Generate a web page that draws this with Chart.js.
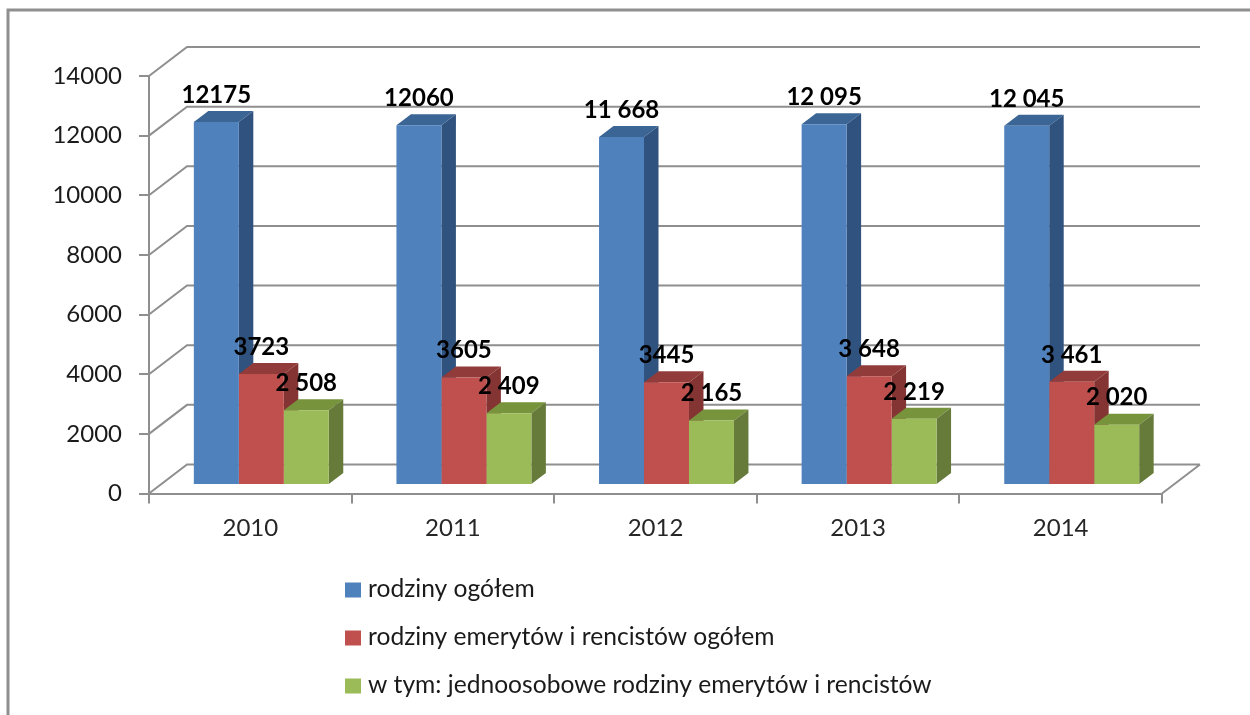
<!DOCTYPE html>
<html>
<head>
<meta charset="utf-8">
<title>Rodziny</title>
<script src="https://cdn.jsdelivr.net/npm/chart.js@4"></script>
<style>
  html, body { margin: 0; padding: 0; background: #fff; overflow: hidden; }
  canvas { display: block; filter: blur(0.4px); }
</style>
</head>
<body>
<canvas id="chart" width="1250" height="715"></canvas>
<script>
const years = ['2010', '2011', '2012', '2013', '2014'];
const yTicks = [0, 2000, 4000, 6000, 8000, 10000, 12000, 14000];
const seriesNames = [
  'rodziny ogółem',
  'rodziny emerytów i rencistów ogółem',
  'w tym: jednoosobowe rodziny emerytów i rencistów'
];
const allFamilies = [12175, 12060, 11668, 12095, 12045];
const pensionerFamilies = [3723, 3605, 3445, 3648, 3461];
const singlePensioners = [2508, 2409, 2165, 2219, 2020];
const allLabels = ['12175', '12060', '11 668', '12 095', '12 045'];
const pensionerLabels = ['3723', '3605', '3445', '3 648', '3 461'];
const singleLabels = ['2 508', '2 409', '2 165', '2 219', '2 020'];

const GRAY = '#8f8f8f';
const TEXT_FONT = 'Lato, "Open Sans", sans-serif';
const faces = [
  { front: '#4f81bd', top: '#3a6595', side: '#30527e' },
  { front: '#c0504d', top: '#913c3a', side: '#843533' },
  { front: '#9bbb59', top: '#77933c', side: '#667a3a' }
];
const dataLabels = [allLabels, pensionerLabels, singleLabels];

// the 3D look: walls sit behind the axes, bars sit a bit inside the floor
const wall = { dx: 38, dy: 29 };
const barShift = { x: 11, y: -8.5 };
const barDepth = { dx: 14.5, dy: 11 };

function poly(ctx, color, pts) {
  ctx.fillStyle = color;
  ctx.beginPath();
  pts.forEach((p, i) => i ? ctx.lineTo(p[0], p[1]) : ctx.moveTo(p[0], p[1]));
  ctx.closePath();
  ctx.fill();
}

const walls3d = {
  id: 'walls3d',
  beforeDatasetsDraw(chart) {
    const { ctx, scales: { x, y } } = chart;
    ctx.save();
    ctx.strokeStyle = GRAY;
    ctx.lineWidth = 2;
    ctx.beginPath();
    yTicks.forEach(v => {
      const py = y.getPixelForValue(v);
      ctx.moveTo(x.left, py);
      ctx.lineTo(x.left + wall.dx, py - wall.dy);
      ctx.lineTo(x.right + wall.dx, py - wall.dy);
    });
    const floor = y.getPixelForValue(0);
    ctx.moveTo(x.right, floor);
    ctx.lineTo(x.right + wall.dx, floor - wall.dy);
    ctx.stroke();

    // top and side faces go first, left to right, the fronts cover them after
    ctx.translate(barShift.x, barShift.y);
    faces.forEach((colors, i) => {
      chart.getDatasetMeta(i).data.forEach(bar => {
        const l = bar.x - bar.width / 2;
        const r = bar.x + bar.width / 2;
        const { dx, dy } = barDepth;
        poly(ctx, colors.top, [[l, bar.y], [l + dx, bar.y - dy], [r + dx, bar.y - dy], [r, bar.y]]);
        poly(ctx, colors.side, [[r, bar.y], [r + dx, bar.y - dy], [r + dx, bar.base - dy], [r, bar.base]]);
      });
    });
    ctx.restore();
  },
  beforeDatasetDraw(chart) {
    chart.ctx.save();
    chart.ctx.translate(barShift.x, barShift.y);
  },
  afterDatasetDraw(chart) {
    chart.ctx.restore();
  },
  afterDatasetsDraw(chart) {
    const ctx = chart.ctx;
    ctx.save();
    ctx.font = 'bold 24px ' + TEXT_FONT;
    ctx.fillStyle = '#000';
    ctx.textAlign = 'center';
    ctx.textBaseline = 'middle';
    dataLabels.forEach((labels, i) => {
      chart.getDatasetMeta(i).data.forEach((bar, j) => {
        ctx.fillText(labels[j], bar.x + barShift.x, bar.y + barShift.y - 27);
      });
    });
    ctx.restore();
  },
  afterDraw(chart) {
    const ctx = chart.ctx;
    ctx.save();
    // outer frame, runs off the picture right and bottom
    ctx.strokeStyle = GRAY;
    ctx.lineWidth = 3;
    ctx.beginPath();
    ctx.moveTo(8, 715);
    ctx.lineTo(8, 10);
    ctx.lineTo(1250, 10);
    ctx.stroke();
    // legend
    ctx.font = '24.6px ' + TEXT_FONT;
    ctx.textAlign = 'left';
    ctx.textBaseline = 'middle';
    seriesNames.forEach((name, i) => {
      const cy = 589.5 + i * 48;
      ctx.fillStyle = faces[i].front;
      ctx.fillRect(345, cy - 7, 16, 15);
      ctx.fillStyle = '#1a1a1a';
      ctx.fillText(name, 368, cy);
    });
    ctx.restore();
  }
};

const tickFont = { family: TEXT_FONT, size: 24 };

new Chart(document.getElementById('chart'), {
  type: 'bar',
  data: {
    labels: years,
    datasets: [
      { label: seriesNames[0], data: allFamilies, backgroundColor: faces[0].front },
      { label: seriesNames[1], data: pensionerFamilies, backgroundColor: faces[1].front },
      { label: seriesNames[2], data: singlePensioners, backgroundColor: faces[2].front }
    ]
  },
  options: {
    responsive: false,
    animation: false,
    clip: false,
    categoryPercentage: 0.666,
    barPercentage: 1,
    layout: { padding: { top: 76, right: 88, left: 0, bottom: 0 } },
    plugins: { legend: { display: false }, tooltip: { enabled: false } },
    scales: {
      x: {
        afterFit: s => { s.height = 221.5; },
        grid: { drawOnChartArea: false, color: GRAY, lineWidth: 2, tickLength: 10 },
        border: { color: GRAY, width: 2 },
        ticks: { color: '#262626', font: tickFont, padding: 10, maxRotation: 0 }
      },
      y: {
        min: 0,
        max: 14000,
        afterFit: s => { s.width = 149; },
        afterBuildTicks: s => { s.ticks = yTicks.map(value => ({ value })); },
        grid: { drawOnChartArea: false, color: GRAY, lineWidth: 2, tickLength: 10 },
        border: { color: GRAY, width: 2 },
        ticks: { color: '#1a1a1a', font: tickFont, padding: 17, callback: v => String(v) }
      }
    }
  },
  plugins: [walls3d]
});
</script>
</body>
</html>
